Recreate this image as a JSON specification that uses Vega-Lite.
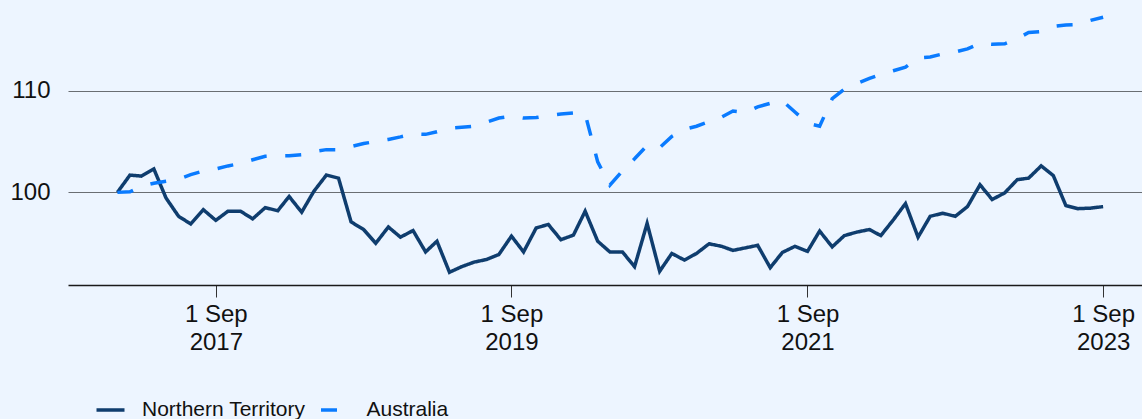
{
  "$schema": "https://vega.github.io/schema/vega-lite/v6.json",
  "width": 1074,
  "height": 285,
  "autosize": {"type": "none"},
  "padding": {"left": 68, "top": 0, "right": 0, "bottom": 134},
  "background": "#EDF5FF",
  "config": {"view": {"stroke": null}, "font": "Liberation Sans"},
  "data": {"values": [
    {"date":"2017-01-01","Northern Territory":100,"Australia":100.0},
    {"date":"2017-02-01","Northern Territory":101.7,"Australia":100.05},
    {"date":"2017-03-01","Northern Territory":101.6,"Australia":100.6},
    {"date":"2017-04-01","Northern Territory":102.3,"Australia":100.9},
    {"date":"2017-05-01","Northern Territory":99.45,"Australia":101.1},
    {"date":"2017-06-01","Northern Territory":97.65,"Australia":101.3},
    {"date":"2017-07-01","Northern Territory":96.9,"Australia":101.75},
    {"date":"2017-08-01","Northern Territory":98.3,"Australia":102.1},
    {"date":"2017-09-01","Northern Territory":97.25,"Australia":102.3},
    {"date":"2017-10-01","Northern Territory":98.15,"Australia":102.6},
    {"date":"2017-11-01","Northern Territory":98.15,"Australia":102.85},
    {"date":"2017-12-01","Northern Territory":97.4,"Australia":103.2},
    {"date":"2018-01-01","Northern Territory":98.5,"Australia":103.55},
    {"date":"2018-02-01","Northern Territory":98.2,"Australia":103.6},
    {"date":"2018-03-01","Northern Territory":99.6,"Australia":103.6},
    {"date":"2018-04-01","Northern Territory":98.05,"Australia":103.7},
    {"date":"2018-05-01","Northern Territory":100.1,"Australia":104.0},
    {"date":"2018-06-01","Northern Territory":101.7,"Australia":104.2},
    {"date":"2018-07-01","Northern Territory":101.4,"Australia":104.2},
    {"date":"2018-08-01","Northern Territory":97.1,"Australia":104.5},
    {"date":"2018-09-01","Northern Territory":96.35,"Australia":104.8},
    {"date":"2018-10-01","Northern Territory":95.0,"Australia":105.0},
    {"date":"2018-11-01","Northern Territory":96.6,"Australia":105.2},
    {"date":"2018-12-01","Northern Territory":95.6,"Australia":105.45},
    {"date":"2019-01-01","Northern Territory":96.25,"Australia":105.75},
    {"date":"2019-02-01","Northern Territory":94.15,"Australia":105.7},
    {"date":"2019-03-01","Northern Territory":95.2,"Australia":105.95},
    {"date":"2019-04-01","Northern Territory":92.15,"Australia":106.3},
    {"date":"2019-05-01","Northern Territory":92.7,"Australia":106.4},
    {"date":"2019-06-01","Northern Territory":93.15,"Australia":106.5},
    {"date":"2019-07-01","Northern Territory":93.4,"Australia":106.9},
    {"date":"2019-08-01","Northern Territory":93.9,"Australia":107.3},
    {"date":"2019-09-01","Northern Territory":95.7,"Australia":107.5},
    {"date":"2019-10-01","Northern Territory":94.15,"Australia":107.3},
    {"date":"2019-11-01","Northern Territory":96.5,"Australia":107.35},
    {"date":"2019-12-01","Northern Territory":96.85,"Australia":107.55},
    {"date":"2020-01-01","Northern Territory":95.35,"Australia":107.7},
    {"date":"2020-02-01","Northern Territory":95.8,"Australia":107.8},
    {"date":"2020-03-01","Northern Territory":98.15,"Australia":107.7},
    {"date":"2020-04-01","Northern Territory":95.2,"Australia":103.0},
    {"date":"2020-05-01","Northern Territory":94.15,"Australia":100.7},
    {"date":"2020-06-01","Northern Territory":94.15,"Australia":102.1},
    {"date":"2020-07-01","Northern Territory":92.7,"Australia":103.3},
    {"date":"2020-08-01","Northern Territory":96.95,"Australia":104.6},
    {"date":"2020-09-01","Northern Territory":92.25,"Australia":104.4},
    {"date":"2020-10-01","Northern Territory":94.0,"Australia":105.5},
    {"date":"2020-11-01","Northern Territory":93.35,"Australia":106.2},
    {"date":"2020-12-01","Northern Territory":94.0,"Australia":106.5},
    {"date":"2021-01-01","Northern Territory":94.95,"Australia":106.95},
    {"date":"2021-02-01","Northern Territory":94.7,"Australia":107.4},
    {"date":"2021-03-01","Northern Territory":94.3,"Australia":108.0},
    {"date":"2021-04-01","Northern Territory":94.55,"Australia":107.85},
    {"date":"2021-05-01","Northern Territory":94.8,"Australia":108.4},
    {"date":"2021-06-01","Northern Territory":92.6,"Australia":108.75},
    {"date":"2021-07-01","Northern Territory":94.1,"Australia":109.0},
    {"date":"2021-08-01","Northern Territory":94.7,"Australia":107.9},
    {"date":"2021-09-01","Northern Territory":94.2,"Australia":106.8},
    {"date":"2021-10-01","Northern Territory":96.2,"Australia":106.5},
    {"date":"2021-11-01","Northern Territory":94.65,"Australia":109.2},
    {"date":"2021-12-01","Northern Territory":95.75,"Australia":110.15},
    {"date":"2022-01-01","Northern Territory":96.1,"Australia":110.7},
    {"date":"2022-02-01","Northern Territory":96.35,"Australia":111.2},
    {"date":"2022-03-01","Northern Territory":95.75,"Australia":111.6},
    {"date":"2022-04-01","Northern Territory":97.3,"Australia":111.95},
    {"date":"2022-05-01","Northern Territory":98.9,"Australia":112.3},
    {"date":"2022-06-01","Northern Territory":95.6,"Australia":113.2},
    {"date":"2022-07-01","Northern Territory":97.65,"Australia":113.3},
    {"date":"2022-08-01","Northern Territory":97.95,"Australia":113.6},
    {"date":"2022-09-01","Northern Territory":97.65,"Australia":113.8},
    {"date":"2022-10-01","Northern Territory":98.6,"Australia":114.1},
    {"date":"2022-11-01","Northern Territory":100.75,"Australia":114.65},
    {"date":"2022-12-01","Northern Territory":99.3,"Australia":114.55},
    {"date":"2023-01-01","Northern Territory":99.95,"Australia":114.6},
    {"date":"2023-02-01","Northern Territory":101.25,"Australia":115.1},
    {"date":"2023-03-01","Northern Territory":101.4,"Australia":115.7},
    {"date":"2023-04-01","Northern Territory":102.6,"Australia":115.8},
    {"date":"2023-05-01","Northern Territory":101.65,"Australia":116.3},
    {"date":"2023-06-01","Northern Territory":98.7,"Australia":116.45},
    {"date":"2023-07-01","Northern Territory":98.4,"Australia":116.5},
    {"date":"2023-08-01","Northern Territory":98.45,"Australia":116.9},
    {"date":"2023-09-01","Northern Territory":98.6,"Australia":117.2}
  ]},
  "transform": [
    {"fold": ["Northern Territory", "Australia"], "as": ["series", "value"]}
  ],
  "mark": {"type": "line", "strokeWidth": 3.5, "clip": true},
  "encoding": {
    "x": {
      "field": "date",
      "type": "temporal",
      "scale": {"domain": [{"year": 2016, "month": 9, "date": 1, "utc": true}, {"year": 2023, "month": 12, "date": 6, "utc": true}]},
      "axis": {
        "title": null,
        "grid": false,
        "values": [{"year": 2017, "month": 9, "date": 1, "utc": true}, {"year": 2019, "month": 9, "date": 1, "utc": true}, {"year": 2021, "month": 9, "date": 1, "utc": true}, {"year": 2023, "month": 9, "date": 1, "utc": true}],
        "labelExpr": "['1 Sep', utcFormat(datum.value, '%Y')]",
        "labelFontSize": 24,
        "labelLineHeight": 28,
        "labelColor": "#111111",
        "labelAngle": 0,
        "labelFlush": false,
        "labelOverlap": false,
        "tickSize": 12,
        "tickColor": "#333333",
        "labelPadding": 5,
        "domainColor": "#1a1a1a",
        "domainWidth": 1.5
      }
    },
    "y": {
      "field": "value",
      "type": "quantitative",
      "scale": {"domain": [90.9, 118.9], "nice": false, "zero": false},
      "axis": {
        "title": null,
        "values": [100, 110],
        "grid": true,
        "gridColor": "#6a6e73",
        "gridWidth": 1.2,
        "domain": false,
        "ticks": false,
        "labelFontSize": 24,
        "labelColor": "#111111",
        "labelPadding": 18
      }
    },
    "color": {
      "field": "series",
      "type": "nominal",
      "scale": {"domain": ["Northern Territory", "Australia"], "range": ["#0F3D6E", "#0A7BFF"]},
      "legend": {"orient": "none", "legendX": 26.5, "legendY": 394, "direction": "horizontal", "title": null, "symbolType": "stroke", "symbolSize": 784, "symbolStrokeWidth": 3.5, "labelFontSize": 21, "labelLimit": 0, "labelColor": "#111111", "labelOffset": 15.5, "columnPadding": 8.5, "padding": 0}
    },
    "strokeDash": {
      "field": "series",
      "type": "nominal",
      "scale": {"domain": ["Northern Territory", "Australia"], "range": [[1, 0], [16, 18.6]]},
      "legend": {"orient": "none", "legendX": 26.5, "legendY": 394, "direction": "horizontal", "title": null, "symbolType": "stroke", "symbolSize": 784, "symbolStrokeWidth": 3.5, "labelFontSize": 21, "labelLimit": 0, "labelColor": "#111111", "labelOffset": 15.5, "columnPadding": 8.5, "padding": 0}
    }
  }
}
